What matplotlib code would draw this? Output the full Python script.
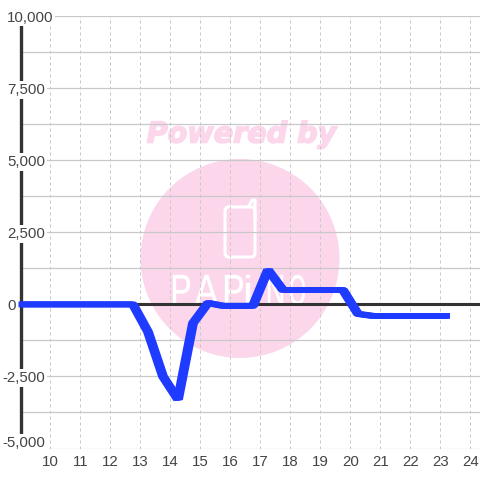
import matplotlib
matplotlib.use("Agg")
import matplotlib.pyplot as plt
import matplotlib.patheffects as pe
from matplotlib.patches import Circle, FancyBboxPatch, PathPatch
from matplotlib.textpath import TextPath
from matplotlib.font_manager import FontProperties
from matplotlib.transforms import Affine2D, ScaledTranslation, blended_transform_factory, IdentityTransform

# half hour readings
hours = [9.0, 9.25, 9.75, 10.25, 10.75, 11.25, 11.75, 12.25, 12.75, 13.25, 13.75, 14.25,
         14.75, 15.25, 15.75, 16.25, 16.75, 17.25, 17.75, 18.25, 18.75, 19.25, 19.75,
         20.25, 20.75, 21.25, 21.75, 22.25, 22.75, 23.25]
values = [0, 0, 0, 0, 0, 0, 0, 0, 0, -950, -2500, -3300,
          -650, 50, -50, -50, -50, 1200, 500, 500, 500, 500, 500,
          -330, -400, -400, -400, -400, -400, -400]

x_ticks = list(range(10, 25))
y_major = [10000, 7500, 5000, 2500, 0, -2500, -5000]
y_labels = ["10,000", "7,500", "5,000", "2,500", "0", "-2,500", "-5,000"]
y_minor = [8750, 6250, 3750, 1250, -1250, -3750]
logo_letters = ["P", "A", "P", "i", "N", "O"]
logo_left = [173, 195, 225, 246, 268, 290]
logo_right = [190, 218, 243, 250, 283, 305]

text_color = "#444444"
grid_color = "#c8c8c8"
pink = "#fcd7ec"

plt.rcParams["font.family"] = ["Liberation Sans", "DejaVu Sans"]
plt.rcParams["font.size"] = 10.8

fig = plt.figure(figsize=(4.8, 4.8), dpi=100, facecolor="white")

# watermark goes in its own pixel-sized axes, behind the chart
bg = fig.add_axes([0, 0, 1, 1], zorder=0)
bg.set_xlim(0, 480)
bg.set_ylim(480, 0)
bg.axis("off")
bg.add_patch(Circle((240, 258.5), 99.5, color=pink, lw=0))
bg.text(241.5, 134.5, "Powered by", family="DejaVu Sans", fontsize=20.6, weight="bold",
        style="italic", color=pink, ha="center", va="center",
        path_effects=[pe.withStroke(linewidth=1.2, foreground=pink)])
bg.add_patch(FancyBboxPatch((225, 207), 30, 50, boxstyle="round,pad=0,rounding_size=4",
                            fc="none", ec="white", lw=2.2, mutation_aspect=1))
bg.plot([248, 252.5, 255, 255, 255], [207, 200, 200, 203, 220], color="white", lw=2.2,
        solid_capstyle="round")

# logo letters squeezed into the width they have in the picture
fp = FontProperties(family="Liberation Sans")
for letter, left, right in zip(logo_letters, logo_left, logo_right):
    path = TextPath((0, 0), letter, size=40, prop=fp)
    box = path.get_extents()
    sx = (right - left) / box.width
    sy = 30 / box.height
    tr = Affine2D().translate(-box.x0, -box.y0).scale(sx, -sy).translate(left, 305)
    bg.add_patch(PathPatch(tr.transform_path(path), fc="white", ec="white", lw=0.3))

ax = fig.add_axes([20.5 / 480, 1 - 448.5 / 480, 459.5 / 480, 432.3 / 480], zorder=1)
ax.patch.set_alpha(0)
ax.set_xlim(9, 24.317)
ax.set_ylim(-5000, 10000)
for s in ax.spines.values():
    s.set_visible(False)

ax.set_xticks(x_ticks)
ax.set_yticks(y_major)
ax.set_yticklabels([])
ax.set_yticks(y_minor, minor=True)
ax.tick_params(axis="both", which="both", length=0)
ax.tick_params(axis="x", colors=text_color, pad=5)
ax.set_axisbelow(True)
ax.grid(axis="x", color=grid_color, lw=0.72, ls=(0, (3, 3)), zorder=1)
ax.grid(axis="y", which="both", color=grid_color, lw=0.9, zorder=1)

# left axis line and zero line
ax.axvline(9, color="#333333", lw=2.4, zorder=2, clip_on=False)
ax.axhline(0, color="#333333", lw=2.2, zorder=2)

# the line looks drawn with a wide flat brush, so stroke it a few times side by side
for dx in [-2, 0, 2]:
    shift = ScaledTranslation(dx / 100, 0, fig.dpi_scale_trans)
    ax.plot(hours, values, color="#1f3bff", lw=4.2, solid_joinstyle="bevel",
            solid_capstyle="butt", clip_on=False, zorder=3, transform=ax.transData + shift)

# value labels sit on white boxes that cut the lines behind them
label_tr = blended_transform_factory(IdentityTransform(), ax.transData)
for v, lab in zip(y_major, y_labels):
    x_px = 2 if lab.startswith("-") else 7
    # bottom label is pushed up inside the chart
    y_pos = v + 235 if v == -5000 else v
    ax.text(x_px, y_pos, lab, transform=label_tr, ha="left", va="center_baseline", color=text_color,
            clip_on=False, zorder=2.5,
            bbox=dict(fc="white", ec="none", boxstyle="square,pad=0.12"))

fig.savefig("out.png", dpi=100)
